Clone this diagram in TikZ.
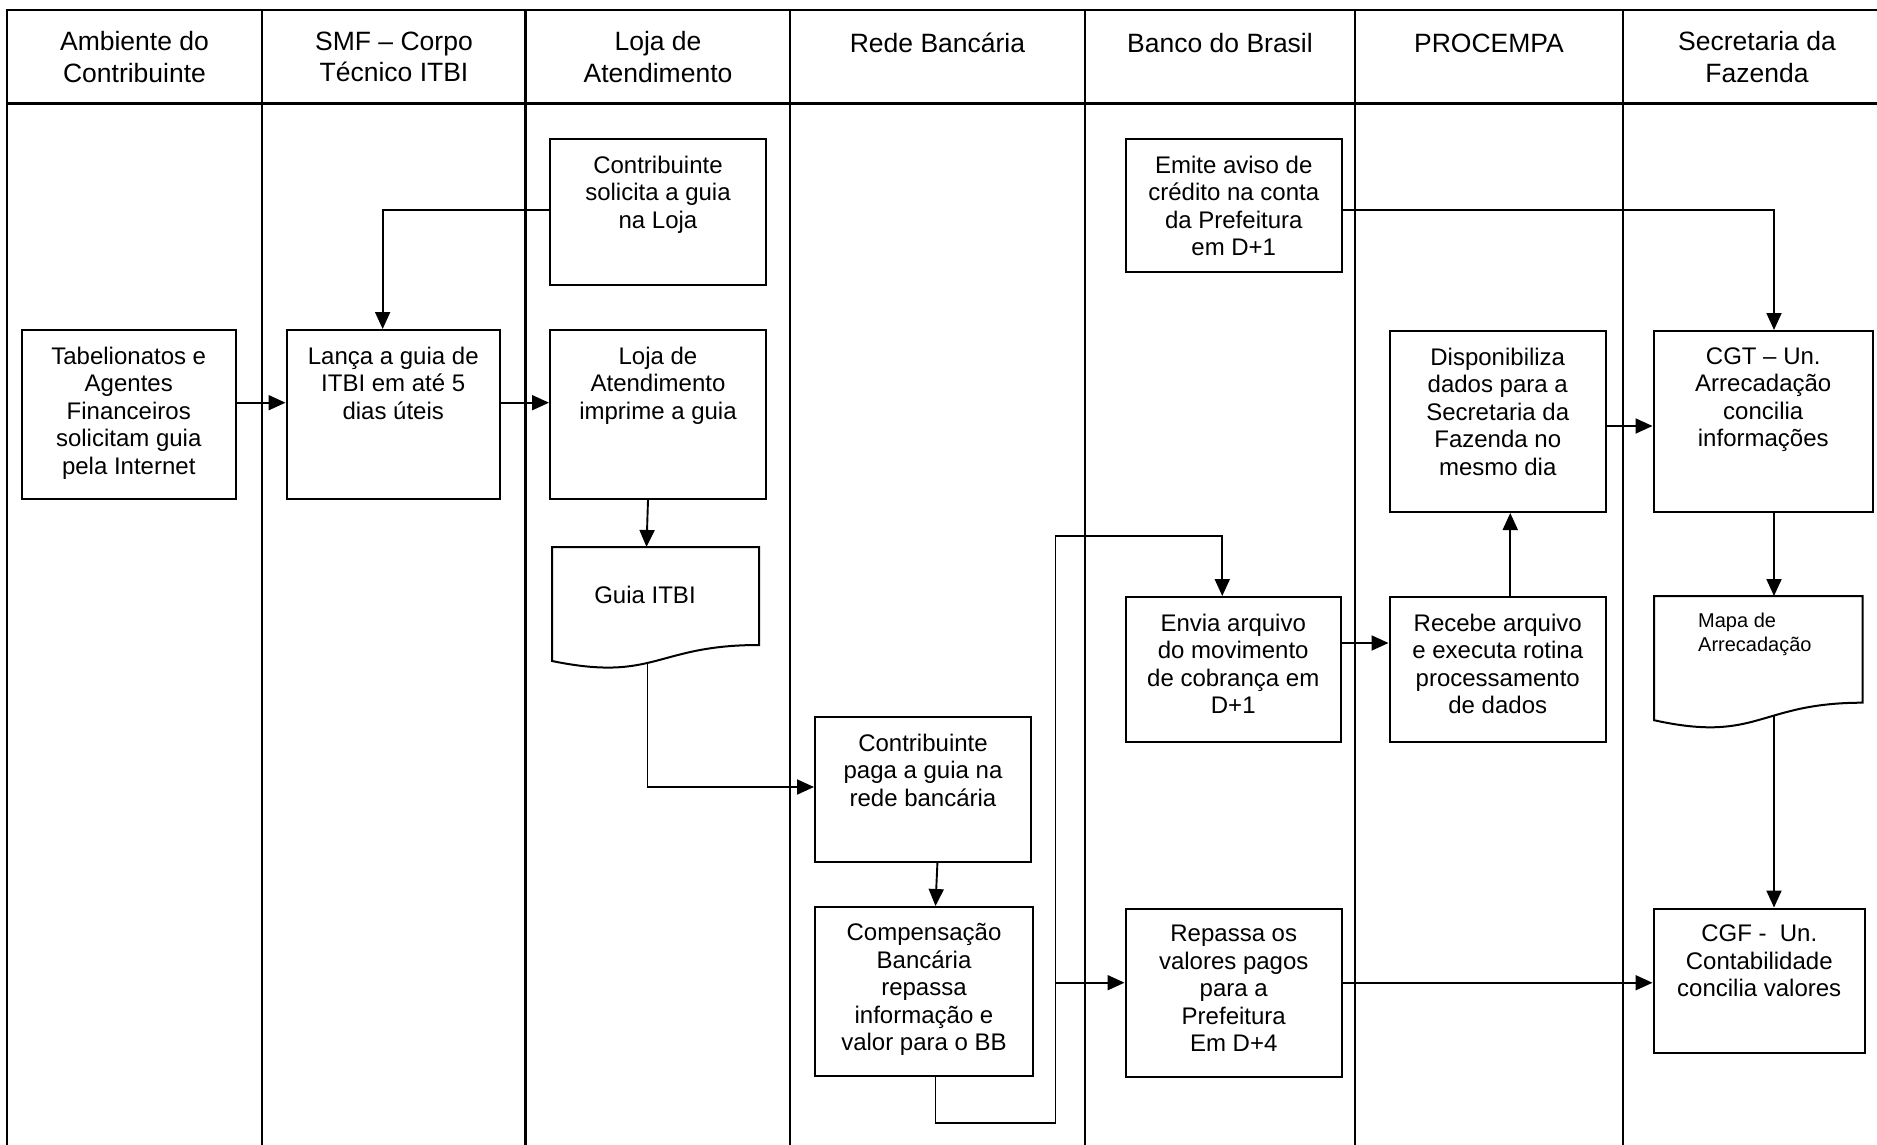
\documentclass[tikz,border=0pt]{standalone}
\usepackage{fontspec}
\setmainfont{Liberation Sans}
\usetikzlibrary{arrows.meta,calc}
\begin{document}
\begin{tikzpicture}[x=1pt,y=-1pt,
  frame/.style={line width=2.4pt},
  box/.style={draw, line width=2pt, rectangle, inner sep=0pt},
  docline/.style={line width=2pt, line join=miter},
  boxtext/.style={anchor=north, align=center, inner sep=0pt, font=\fontsize{24}{27.5}\selectfont, execute at begin node=\strut},
  head/.style={anchor=north, align=center, inner sep=0pt, font=\fontsize{26.5}{31.5}\selectfont, execute at begin node=\strut},
  arr/.style={line width=1.9pt, -{Triangle[length=17pt,width=15pt]}}
]
\useasboundingbox (0,0) rectangle (1877,1145);
% frame
\draw[frame] (1877,10) -- (7,10) -- (7,1145);
\draw[frame] (7,103.5) -- (1877,103.5);
\foreach \x in {262,525.5,790,1085,1355,1623} \draw[frame] (\x,10) -- (\x,1145);
% headers
\node[head] (h1) at (134.5,31.5) {Ambiente do\\Contribuinte};
\node[head] (h2) at (394,31.5) {SMF – Corpo\\Técnico ITBI};
\node[head] (h3) at (658,31.5) {Loja de\\Atendimento};
\node[head] (h4) at (937.5,30.5) {Rede Bancária};
\node[head] (h5) at (1220,30.5) {Banco do Brasil};
\node[head] (h6) at (1489,30.5) {PROCEMPA};
\node[head] (h7) at (1757,31.5) {Secretaria da\\Fazenda};
% boxes
\node[box, minimum width=214.5pt, minimum height=169pt] (tab) at (128.75,414.5) {};
\node[boxtext] (tabT) at (128.75,346.5) {Tabelionatos e\\Agentes\\Financeiros\\solicitam guia\\pela Internet};
\node[box, minimum width=213.5pt, minimum height=169pt] (lanca) at (393.25,414.5) {};
\node[boxtext] (lancaT) at (393.25,346.5) {Lança a guia de\\ITBI em até 5\\dias úteis};
\node[box, minimum width=216pt, minimum height=146pt] (solicita) at (658,212) {};
\node[boxtext] (solicitaT) at (658,155.5) {Contribuinte\\solicita a guia\\na Loja};
\node[box, minimum width=216pt, minimum height=169pt] (imprime) at (658,414.5) {};
\node[boxtext] (imprimeT) at (658,346.5) {Loja de\\Atendimento\\imprime a guia};
\node[box, minimum width=216pt, minimum height=145pt] (paga) at (923,789.5) {};
\node[boxtext] (pagaT) at (923,733.5) {Contribuinte\\paga a guia na\\rede bancária};
\node[box, minimum width=218pt, minimum height=169pt] (comp) at (924,991.5) {};
\node[boxtext] (compT) at (924,923.5) {Compensação\\Bancária\\repassa\\informação e\\valor para o BB};
\node[box, minimum width=216.5pt, minimum height=133pt] (emite) at (1233.75,205.5) {};
\node[boxtext] (emiteT) at (1233.75,155.5) {Emite aviso de\\crédito na conta\\da Prefeitura\\em D+1};
\node[box, minimum width=215.5pt, minimum height=145pt] (envia) at (1233.25,669.5) {};
\node[boxtext] (enviaT) at (1233.25,613.5) {Envia arquivo\\do movimento\\de cobrança em\\D+1};
\node[box, minimum width=216.5pt, minimum height=168.5pt] (repassa) at (1233.75,992.75) {};
\node[boxtext] (repassaT) at (1233.75,925) {Repassa os\\valores pagos\\para a\\Prefeitura\\Em D+4};
\node[box, minimum width=216.5pt, minimum height=181pt] (disp) at (1497.75,421.5) {};
\node[boxtext] (dispT) at (1497.75,347.5) {Disponibiliza\\dados para a\\Secretaria da\\Fazenda no\\mesmo dia};
\node[box, minimum width=216.5pt, minimum height=145pt] (recebe) at (1497.75,669.5) {};
\node[boxtext] (recebeT) at (1497.75,613.5) {Recebe arquivo\\e executa rotina\\processamento\\de dados};
\node[box, minimum width=219.5pt, minimum height=181pt] (cgt) at (1763.25,421.5) {};
\node[boxtext] (cgtT) at (1763.25,347.5) {CGT – Un.\\Arrecadação\\concilia\\informações};
\node[box, minimum width=211.5pt, minimum height=144.5pt] (cgf) at (1759.25,980.75) {};
\node[boxtext] (cgfT) at (1759.25,925) {CGF -\ \ Un.\\Contabilidade\\concilia valores};
% documents
\draw[docline] (552,547) -- (759,547) -- (759,645) .. controls (655.5,645) and (655.5,682.3) .. (552,661) -- cycle;
\node[anchor=base, inner sep=0pt, font=\fontsize{24}{27.5}\selectfont] (guia) at (645,603.5) {Guia ITBI};
\coordinate (guiaT) at (646.5,547);
\coordinate (guiaB) at (647.5,663);
\draw[docline] (1654,596) -- (1862.5,596) -- (1862.5,702.7) .. controls (1758.25,702.7) and (1758.25,743.3) .. (1654,720.2) -- cycle;
\node[anchor=north west, align=left, inner sep=0pt, font=\fontsize{20}{24}\selectfont, execute at begin node=\strut] (mapa) at (1698,612.5) {Mapa de\\Arrecadação};
\coordinate (mapaT) at (1774,596);
\coordinate (mapaB) at (1774,715.6);
% connectors
\draw[arr] ([yshift=2pt]solicita.west) -| ([xshift=-10.6pt]lanca.north);
\draw[arr] ([yshift=11.8pt]tab.east) -- ([yshift=11.8pt]lanca.west);
\draw[arr] ([yshift=11.8pt]lanca.east) -- ([yshift=11.8pt]imprime.west);
\draw[arr] ([xshift=-10pt]imprime.south) -- (guiaT);
\draw[arr] (guiaB) |- ([yshift=2.5pt]paga.west);
\draw[arr] ([xshift=14.4pt]paga.south) -- ([xshift=11.5pt]comp.north);
\coordinate (bend) at (1055.5,1123);
\coordinate (topc) at (1055.5,536);
\coordinate (jn) at (1055.5,982.7);
\draw[arr] ([xshift=11.5pt]comp.south) |- (bend) -- (topc) -| ([xshift=-11pt]envia.north);
\draw[arr] (jn) -- (jn -| repassa.west);
\draw[arr] ([yshift=-4.5pt]emite.east) -| ([xshift=10.75pt]cgt.north);
\draw[arr] ([yshift=26.5pt]envia.east) -- ([yshift=26.5pt]envia.east -| recebe.west);
\draw[arr] ([xshift=12.5pt]recebe.north) -- ([xshift=12.5pt]disp.south);
\draw[arr] ([yshift=-4.5pt]disp.east) -- ([yshift=-4.5pt]cgt.west);
\draw[arr] ([xshift=10.75pt]cgt.south) -- (mapaT);
\draw[arr] (mapaB) -- ([xshift=14.75pt]cgf.north);
\draw[arr] ([yshift=10pt]repassa.east) -- ([yshift=10pt]repassa.east -| cgf.west);
\end{tikzpicture}
\end{document}
